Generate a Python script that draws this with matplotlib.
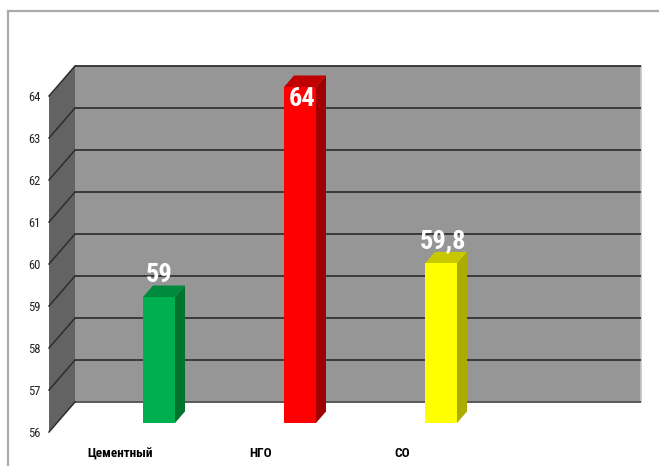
import matplotlib
matplotlib.use("Agg")
import matplotlib.pyplot as plt
from matplotlib.patches import Polygon, Rectangle
from matplotlib.transforms import ScaledTranslation
from matplotlib import font_manager as fm

categories = ["Цементный", "НГО", "СО"]
values = [59, 64, 59.8]
value_labels = ["59", "64", "59,8"]
face_colors = ["#00B050", "#FF0000", "#FFFF00"]
side_colors = ["#00742F", "#A00000", "#ABAB00"]
top_colors = ["#008A3E", "#C00000", "#C8C800"]
y_ticks = [56, 57, 58, 59, 60, 61, 62, 63, 64]

W, H, DPI = 659, 466, 100
names = {f.name for f in fm.fontManager.ttflist}
narrow = "Liberation Sans"
for cand in ["Liberation Sans Narrow", "Roboto Condensed", "Arial Narrow"]:
    if cand in names:
        narrow = cand
        break

fig = plt.figure(figsize=(W / DPI, H / DPI), dpi=DPI, facecolor="white")

# frame
fig.add_artist(plt.Line2D([8 / W, 8 / W], [0, 1 - 11 / H], color="#ABABAB", lw=1.6))
fig.add_artist(plt.Line2D([8 / W, 1], [1 - 11 / H, 1 - 11 / H], color="#ABABAB", lw=1.6))

# axes: left = front wall edge, bottom = value 56, top = value 64 at the front
L, R, T, B = 49, 641, 96, 432
ax = fig.add_axes([L / W, 1 - B / H, (R - L) / W, (B - T) / H])
PX_Y = (B - T) / (y_ticks[-1] - y_ticks[0])
PX_X = 141.0
X0 = 159.0
ax.set_xlim((L - X0) / PX_X, (R - X0) / PX_X)
ax.set_ylim(y_ticks[0], y_ticks[-1])
ax.patch.set_visible(False)
for s in ax.spines.values():
    s.set_visible(False)

WALL_DX, WALL_DY = 26 / PX_X, 30 / PX_Y
BAR_DX, BAR_DY = 10 / PX_X, 11.5 / PX_Y
BAR_SHIFT = 9 / PX_Y
BAR_W = 32 / PX_X

xl, xr = ax.get_xlim()
lo, hi = y_ticks[0], y_ticks[-1]
# back wall
ax.add_patch(Rectangle((xl + WALL_DX, lo + WALL_DY), xr - xl - WALL_DX, hi - lo,
                       fc="#969696", ec="none", clip_on=False, zorder=1))
ax.plot([xr, xr], [lo + WALL_DY, hi + WALL_DY], color="#C4C4C4", lw=1.2, clip_on=False, zorder=1.5)
# side wall
ax.add_patch(Polygon([(xl, lo), (xl + WALL_DX, lo + WALL_DY), (xl + WALL_DX, hi + WALL_DY), (xl, hi)],
                     fc="#636363", ec="none", clip_on=False, zorder=1))
# grid
for v in y_ticks:
    ax.plot([xl + WALL_DX, xr], [v + WALL_DY] * 2, color="#3A3A3A" if v > lo else "#5A5A5A",
            lw=1.4, clip_on=False, zorder=2, solid_capstyle="butt")
    ax.plot([xl, xl + WALL_DX], [v, v + WALL_DY], color="#2E2E2E", lw=1.1, clip_on=False, zorder=2)

# bars
for i, (v, fc, sc, tc, lab) in enumerate(zip(values, face_colors, side_colors, top_colors, value_labels)):
    x0, x1 = i - BAR_W / 2, i + BAR_W / 2
    y0, y1 = lo + BAR_SHIFT, v + BAR_SHIFT
    ax.add_patch(Polygon([(x1, y0), (x1 + BAR_DX, y0 + BAR_DY), (x1 + BAR_DX, y1 + BAR_DY), (x1, y1)],
                         fc=sc, ec="none", clip_on=False, zorder=3))
    ax.add_patch(Polygon([(x0, y1), (x0 + BAR_DX, y1 + BAR_DY), (x1 + BAR_DX, y1 + BAR_DY), (x1, y1)],
                         fc=tc, ec="none", clip_on=False, zorder=3))
    ax.add_patch(Rectangle((x0, y0), BAR_W, v - lo, fc=fc, ec="none", clip_on=False, zorder=4))
    top_label = y1 + 22 / PX_Y if v < hi else y1 - 12 / PX_Y
    ax.text(i + (0 if v < 59.5 else 2) / PX_X, top_label, lab, color="white", fontsize=19, fontweight="bold",
            family=narrow, ha="center", va="center", zorder=5, clip_on=False)

# ticks
ax.set_yticks(y_ticks)
ax.set_xticks(range(len(categories)))
ax.set_xticklabels(categories, family=narrow, fontweight="bold", fontsize=9.5, color="black")
ax.tick_params(axis="both", length=0)
ax.tick_params(axis="y", labelsize=9, labelcolor="#222222", pad=6)
ax.tick_params(axis="x", pad=11)
for t in ax.get_yticklabels():
    t.set_family(narrow)
shift = ScaledTranslation(-39 / DPI, 0, fig.dpi_scale_trans)
for t in ax.get_xticklabels():
    t.set_transform(t.get_transform() + shift)

fig.savefig("out.png", dpi=DPI, facecolor="white")
